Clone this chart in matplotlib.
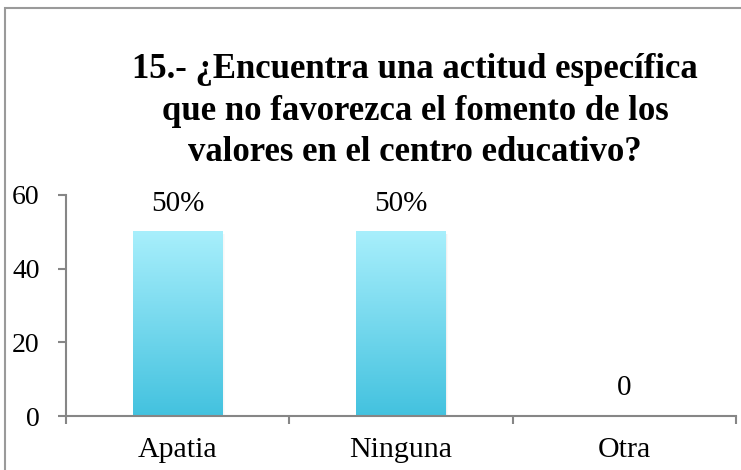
import numpy as np
import matplotlib.pyplot as plt
from matplotlib.patches import Rectangle
from matplotlib.colors import LinearSegmentedColormap

# Respuestas a la pregunta 15
categorias = ["Apatia", "Ninguna", "Otra"]
valores = [50, 50, 0]
etiquetas = ["50%", "50%", "0"]
y_ticks = [0, 20, 40, 60]

titulo = ("15.- ¿Encuentra una actitud específica\n"
          "que no favorezca el fomento de los\n"
          "valores en el centro educativo?")

W, H = 741, 470
fig = plt.figure(figsize=(W / 100, H / 100), dpi=100)
plt.rcParams['font.family'] = ['Liberation Serif', 'DejaVu Serif']

# marco del gráfico (cortado a la derecha y abajo)
fig.patches.append(Rectangle((5 / W, -0.1), 1.2, (H - 8) / H + 0.1,
                             transform=fig.transFigure, fill=False,
                             edgecolor='#9a9a9a', linewidth=1.5))

ax = fig.add_axes([66 / W, (H - 416) / H, 670 / W, 221 / H])
ax.set_xlim(-0.5, 2.5)
ax.set_ylim(0, 60)

gris = '#868686'
for lado in ['top', 'right']:
    ax.spines[lado].set_visible(False)
for lado in ['left', 'bottom']:
    ax.spines[lado].set_color(gris)
    ax.spines[lado].set_linewidth(1.5)

x = np.arange(len(categorias))
barras = ax.bar(x, valores, width=0.4, color='none', edgecolor='none', zorder=2)

# degradado vertical en las barras
cmap = LinearSegmentedColormap.from_list('cian', ['#43c2df', '#a8effc'])
grad = np.linspace(0, 1, 256).reshape(-1, 1)
for b in barras:
    if b.get_height() <= 0:
        continue
    x0, w, h = b.get_x(), b.get_width(), b.get_height()
    # sombra suave a la derecha
    for i, a in enumerate([0.10, 0.06, 0.03]):
        ax.add_patch(Rectangle((x0 + w + i * 0.004, 0), 0.004, h - 0.5,
                               facecolor='#777777', alpha=a,
                               edgecolor='none', zorder=1))
    ax.imshow(grad, cmap=cmap, origin='lower', aspect='auto',
              extent=(x0, x0 + w, 0, h), zorder=2)

ax.set_xlim(-0.5, 2.5)
ax.set_ylim(0, 60)

for xi, v, t in zip(x, valores, etiquetas):
    ax.annotate(t, (xi, v), xytext=(0, 11), textcoords='offset points',
                ha='center', va='bottom', fontsize=21)

ax.set_yticks(y_ticks)
ax.tick_params(axis='y', length=6, width=1.5, color=gris, pad=13, labelsize=20)
ax.set_xticks(x)
ax.set_xticklabels(categorias)
ax.tick_params(axis='x', which='major', length=0, pad=15, labelsize=21.5)
ax.set_xticks([-0.5, 0.5, 1.5, 2.5], minor=True)
ax.tick_params(axis='x', which='minor', length=6, width=1.5, color=gris)

fig.text(415 / W, 1 - 111 / H, titulo, ha='center', va='center',
         fontsize=25, fontweight='bold', linespacing=1.33)

fig.savefig('out.png', dpi=100)
